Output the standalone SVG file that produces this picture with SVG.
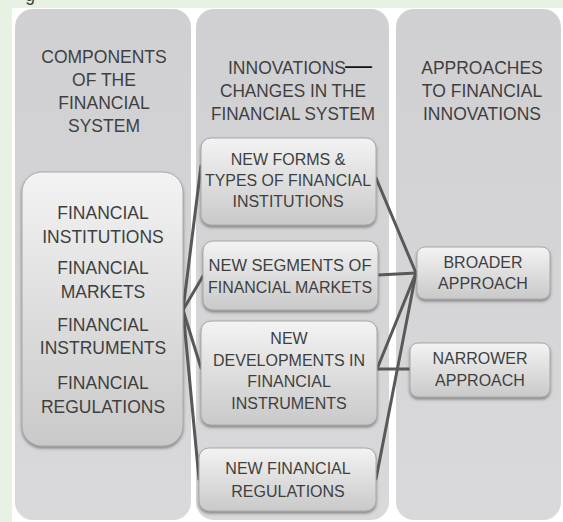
<svg xmlns="http://www.w3.org/2000/svg" width="563" height="522" viewBox="0 0 563 522">
<defs>
<linearGradient id="colGrad" x1="0" y1="0" x2="0" y2="1"><stop offset="0" stop-color="#d0d0d2"/><stop offset="1" stop-color="#d9d9db"/></linearGradient>
<linearGradient id="boxGrad" x1="0" y1="0" x2="0" y2="1"><stop offset="0" stop-color="#f3f3f3"/><stop offset="1" stop-color="#c9c9c9"/></linearGradient>
<filter id="shadow" x="-10%" y="-10%" width="120%" height="130%"><feDropShadow dx="0" dy="2" stdDeviation="1.5" flood-color="#404040" flood-opacity="0.55"/></filter>
</defs>
<style>
.col{fill:url(#colGrad);}
.box{fill:url(#boxGrad);stroke:#a8a8a8;stroke-width:1;filter:url(#shadow);}
text{font-family:"Liberation Sans",Arial,sans-serif;fill:#3f3f3f;text-anchor:middle;}
.h{font-size:17.5px;}
.m{font-size:16px;}
.conn line{stroke:#595959;stroke-width:3;stroke-linecap:round;}
</style>
<rect width="563" height="522" fill="#e7f1e4"/>
<rect x="12" y="8" width="551" height="514" fill="#ffffff"/>
<text x="30" y="0.5" class="h" fill="#333">g</text>

<g id="col-components">
<rect class="col" x="15" y="9" width="176" height="511" rx="18"/>
<text class="h" x="104" y="63">COMPONENTS</text>
<text class="h" x="104" y="86">OF THE</text>
<text class="h" x="104" y="109">FINANCIAL</text>
<text class="h" x="104" y="132">SYSTEM</text>
</g>
<g id="col-innovations">
<rect class="col" x="196" y="9" width="193" height="511" rx="18"/>
<text class="h" x="228" y="74" style="text-anchor:start">INNOVATIONS<tspan dx="-1" style="font-size:27px;fill:#111">—</tspan></text>
<text class="h" x="293" y="97" textLength="146" lengthAdjust="spacingAndGlyphs">CHANGES IN THE</text>
<text class="h" x="293" y="120" textLength="164" lengthAdjust="spacingAndGlyphs">FINANCIAL SYSTEM</text>
</g>
<g id="col-approaches">
<rect class="col" x="396" y="9" width="165" height="511" rx="18"/>
<text class="h" x="482" y="74">APPROACHES</text>
<text class="h" x="482" y="97">TO FINANCIAL</text>
<text class="h" x="482" y="120">INNOVATIONS</text>
</g>

<g id="connectors" class="conn">
<line x1="183" y1="310" x2="201" y2="166"/>
<line x1="183" y1="310" x2="203" y2="276"/>
<line x1="183" y1="310" x2="201" y2="368"/>
<line x1="183" y1="310" x2="199" y2="479"/>
<line x1="376" y1="178" x2="416" y2="273"/>
<line x1="378" y1="275" x2="416" y2="273"/>
<line x1="377" y1="369" x2="416" y2="273"/>
<line x1="377" y1="369" x2="410" y2="369"/>
<line x1="376" y1="479" x2="416" y2="273"/>
</g>

<g id="components-box">
<rect class="box" x="22" y="172" width="161" height="274" rx="20"/>
<text class="h" x="103" y="219">FINANCIAL</text>
<text class="h" x="103" y="243">INSTITUTIONS</text>
<text class="h" x="103" y="274">FINANCIAL</text>
<text class="h" x="103" y="298">MARKETS</text>
<text class="h" x="103" y="331">FINANCIAL</text>
<text class="h" x="103" y="354">INSTRUMENTS</text>
<text class="h" x="103" y="389">FINANCIAL</text>
<text class="h" x="103" y="413">REGULATIONS</text>
</g>
<g id="new-institutions">
<rect class="box" x="201" y="138" width="175" height="87" rx="10"/>
<text class="m" x="288" y="165">NEW FORMS &amp;</text>
<text class="m" x="288" y="186" textLength="166" lengthAdjust="spacingAndGlyphs">TYPES OF FINANCIAL</text>
<text class="m" x="288" y="207">INSTITUTIONS</text>
</g>
<g id="new-markets">
<rect class="box" x="203" y="241" width="175" height="69" rx="10"/>
<text class="m" x="290" y="271" textLength="163" lengthAdjust="spacingAndGlyphs">NEW SEGMENTS OF</text>
<text class="m" x="290" y="293" textLength="164" lengthAdjust="spacingAndGlyphs">FINANCIAL MARKETS</text>
</g>
<g id="new-instruments">
<rect class="box" x="201" y="321" width="176" height="104" rx="10"/>
<text class="m" x="289" y="344">NEW</text>
<text class="m" x="289" y="366">DEVELOPMENTS IN</text>
<text class="m" x="289" y="387">FINANCIAL</text>
<text class="m" x="289" y="409">INSTRUMENTS</text>
</g>
<g id="new-regulations">
<rect class="box" x="199" y="448" width="177" height="63" rx="10"/>
<text class="m" x="288" y="474">NEW FINANCIAL</text>
<text class="m" x="288" y="497">REGULATIONS</text>
</g>
<g id="broader">
<rect class="box" x="417" y="247" width="133" height="52" rx="8"/>
<text class="m" x="483" y="268">BROADER</text>
<text class="m" x="483" y="289">APPROACH</text>
</g>
<g id="narrower">
<rect class="box" x="410" y="343" width="140" height="54" rx="8"/>
<text class="m" x="480" y="364">NARROWER</text>
<text class="m" x="480" y="386">APPROACH</text>
</g>
</svg>
